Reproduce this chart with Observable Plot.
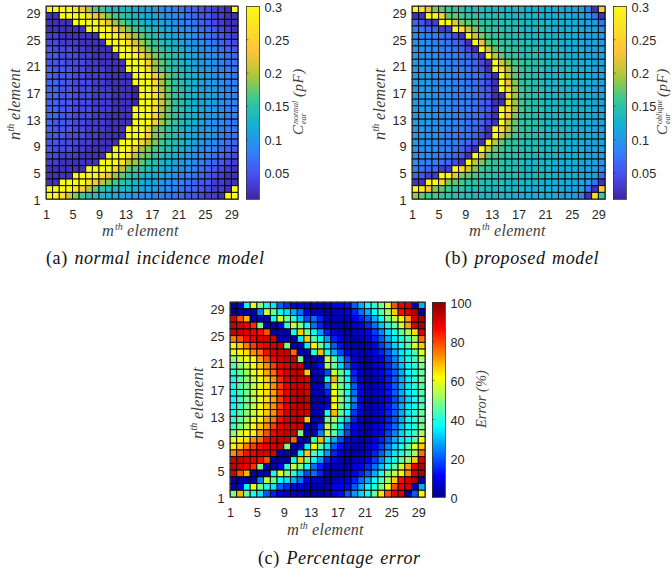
<!DOCTYPE html>
<html><head><meta charset="utf-8">
<script src="https://cdn.jsdelivr.net/npm/d3@7"></script>
<script src="https://cdn.jsdelivr.net/npm/@observablehq/plot@0.6"></script>
<style>
html,body{margin:0;padding:0;background:#fff}
#root{position:relative;width:672px;height:572px;overflow:hidden}
#root svg{position:absolute;overflow:visible;background:transparent;max-width:none}
.cap{position:absolute;font-family:"Liberation Serif",serif;font-size:18px;color:#111;white-space:nowrap;word-spacing:1.5px;letter-spacing:.6px}
.cap i{font-style:italic}
</style></head><body><div id="root"></div>
<script>
// tick labels (matrix index of the element)
const elementTicks=[1,5,9,13,17,21,25,29];
const pfTicks=[5,10,15,20,25,30];
const errTicks=[0,20,40,60,80,100];
// (a) C_ear normal, in 0.01 pF; rows listed from n=29 down to n=1, columns m=1..29
const normalRows=[
[30,30,30,30,27,24,20,17,16,14,13,13,13,12,11,11,10,9,9,8,7,6,6,5,4,3,3,2,30],
[2,2,30,30,30,30,27,23,21,18,16,15,14,13,12,11,11,10,9,9,8,7,6,5,5,3,3,2,2],
[2,2,2,2,30,30,30,30,26,22,19,17,15,14,13,12,11,11,10,9,8,8,7,6,5,4,3,2,2],
[2,2,2,2,2,2,30,30,30,30,25,20,18,16,15,14,13,12,11,10,9,9,8,7,6,5,4,3,2],
[3,3,2,2,2,2,2,2,30,30,30,26,21,19,17,15,14,13,12,11,10,10,9,8,7,6,5,4,3],
[4,4,3,3,3,2,2,2,2,30,30,30,26,21,19,17,15,14,13,12,11,10,9,9,8,7,6,5,4],
[5,4,4,4,3,3,2,2,2,2,30,30,30,26,21,18,16,15,14,13,12,11,10,9,9,8,7,6,5],
[5,5,4,4,4,3,3,2,2,2,2,30,30,30,25,20,18,16,15,14,13,12,11,10,9,9,8,7,6],
[5,5,5,4,4,4,3,3,2,2,2,2,30,30,30,24,19,17,15,14,13,12,11,10,10,9,8,7,7],
[6,5,5,5,4,4,3,3,3,2,2,2,30,30,30,26,19,17,15,14,13,12,11,10,10,9,8,8,7],
[6,5,5,5,4,4,3,3,3,2,2,2,2,30,30,29,24,20,17,15,14,13,12,11,10,9,9,8,7],
[6,6,5,5,4,4,4,3,3,2,2,2,2,30,30,30,26,19,17,15,14,13,12,11,10,10,9,8,8],
[6,6,5,5,4,4,4,3,3,3,2,2,2,1,30,30,26,20,17,15,14,13,12,11,10,10,9,8,8],
[6,6,5,5,4,4,4,3,3,3,2,2,2,1,30,30,27,21,17,15,14,13,12,11,11,10,9,9,8],
[6,6,5,5,4,4,4,3,3,3,2,2,2,1,30,30,27,21,18,15,14,13,12,11,11,10,9,9,8],
[6,6,5,5,4,4,4,3,3,3,2,2,2,30,30,30,27,20,17,15,14,13,12,11,10,10,9,8,8],
[6,6,5,5,4,4,4,3,3,2,2,2,2,30,30,30,25,19,17,15,14,13,12,11,10,10,9,8,8],
[6,5,5,5,4,4,3,3,3,2,2,2,2,30,30,30,24,19,17,15,14,13,12,11,10,9,9,8,7],
[6,5,5,5,4,4,3,3,3,2,2,2,30,30,30,26,18,17,15,14,13,12,11,10,10,9,8,8,7],
[5,5,5,4,4,4,3,3,2,2,2,2,30,30,30,24,18,17,15,14,13,12,11,10,10,9,8,7,7],
[5,5,4,4,4,3,3,2,2,2,2,30,30,30,25,20,18,16,15,14,13,12,11,10,9,9,8,7,6],
[5,4,4,4,3,3,2,2,2,2,30,30,30,25,19,18,16,15,14,13,12,11,10,9,9,8,7,6,5],
[4,4,3,3,3,2,2,2,2,30,30,30,26,20,18,17,15,14,13,12,11,10,9,9,8,7,6,5,4],
[3,3,2,2,2,2,2,2,30,30,30,26,20,19,17,15,14,13,12,11,10,10,9,8,7,6,5,4,3],
[2,2,2,2,2,2,30,30,30,30,25,20,17,16,15,14,13,12,11,10,9,9,8,7,6,5,4,3,2],
[2,2,2,2,30,30,30,30,26,22,19,17,15,14,13,12,11,11,10,9,8,8,7,6,5,4,3,2,2],
[2,2,30,30,30,30,27,23,20,18,16,15,14,13,12,11,11,10,9,9,8,7,6,5,5,3,3,2,2],
[30,30,30,30,27,24,20,17,15,14,13,13,13,12,11,11,10,9,9,8,7,6,6,5,4,3,3,2,30],
[30,30,26,21,18,16,14,14,13,12,12,11,10,10,9,9,8,8,7,7,6,5,5,4,3,3,2,30,30]];
// (b) C_ear oblique, in 0.01 pF
const obliqueRows=[
[30,27,22,18,17,16,15,15,14,14,14,13,13,13,13,13,13,12,12,12,12,12,12,11,11,11,8,2,24],
[2,2,30,30,25,17,17,16,15,15,14,14,14,14,13,13,13,13,13,12,12,12,12,12,11,11,10,7,2],
[6,5,3,3,30,30,22,18,17,16,15,15,14,14,14,14,13,13,13,13,13,12,12,12,12,11,11,11,7],
[8,7,6,6,3,3,30,26,21,18,16,15,15,14,14,14,13,13,13,13,13,12,12,12,12,11,11,11,9],
[9,8,8,8,7,6,4,2,30,21,18,16,15,15,14,14,14,13,13,13,13,12,12,12,12,11,11,11,10],
[9,9,9,8,8,7,6,5,2,30,22,17,16,15,15,14,14,14,13,13,13,13,12,12,12,12,11,11,10],
[10,9,9,9,8,8,7,6,4,2,30,21,17,16,15,15,14,14,14,13,13,13,13,12,12,12,11,11,11],
[10,9,9,9,8,8,8,7,6,5,2,30,20,17,15,15,14,14,14,13,13,13,13,12,12,12,11,11,11],
[10,10,9,9,9,8,8,7,7,6,4,2,30,21,18,16,15,15,14,14,13,13,13,13,12,12,12,11,11],
[10,10,9,9,9,8,8,8,7,6,5,2,30,26,20,17,15,15,14,14,13,13,13,13,12,12,12,11,11],
[10,10,10,9,9,9,8,8,7,7,6,4,2,30,20,17,15,15,14,14,13,13,13,13,12,12,12,11,11],
[10,10,10,9,9,9,8,8,7,7,6,4,2,30,22,18,15,15,14,14,13,13,13,13,12,12,12,11,11],
[10,10,10,9,9,9,8,8,8,7,6,5,2,30,25,19,16,15,14,14,13,13,13,13,12,12,12,11,11],
[10,10,10,9,9,9,8,8,8,7,6,5,2,2,27,19,16,15,14,14,13,13,13,13,12,12,12,11,11],
[10,10,10,9,9,9,8,8,8,7,6,5,2,2,27,19,16,15,14,14,13,13,13,13,12,12,12,11,11],
[10,10,10,9,9,9,8,8,8,7,6,5,2,30,26,19,16,15,14,14,13,13,13,13,12,12,12,11,11],
[10,10,10,9,9,9,8,8,7,7,6,4,2,30,23,18,15,15,14,14,13,13,13,13,12,12,12,11,11],
[10,10,10,9,9,9,8,8,7,7,6,4,2,30,20,17,15,15,14,14,13,13,13,13,12,12,12,11,11],
[10,10,9,9,9,8,8,8,7,6,5,2,30,26,20,17,15,15,14,14,13,13,13,13,12,12,12,11,11],
[10,10,9,9,9,8,8,7,7,6,4,2,30,21,18,16,15,15,14,14,13,13,13,13,12,12,12,11,11],
[10,9,9,9,8,8,8,7,6,5,2,30,20,17,15,15,14,14,14,13,13,13,13,12,12,12,11,11,11],
[10,9,9,9,8,8,7,6,4,2,30,21,17,16,15,15,14,14,14,13,13,13,13,12,12,12,11,11,11],
[9,9,9,8,8,7,6,5,2,30,21,17,16,15,15,14,14,14,13,13,13,13,12,12,12,12,11,11,10],
[9,8,8,8,7,6,4,2,30,20,18,16,15,15,14,14,14,13,13,13,13,12,12,12,12,11,11,11,10],
[8,7,6,6,3,3,30,26,21,18,16,15,15,14,14,14,13,13,13,13,13,12,12,12,12,11,11,11,9],
[6,5,3,3,30,30,22,18,17,16,15,15,14,14,14,14,13,13,13,13,13,12,12,12,12,11,11,11,7],
[2,2,30,30,25,18,17,16,15,15,14,14,14,14,13,13,13,13,13,12,12,12,12,12,11,11,10,7,2],
[30,28,23,18,17,16,15,15,14,14,14,13,13,13,13,13,13,12,12,12,12,12,12,11,11,11,7,2,24],
[19,17,16,16,15,15,14,14,14,13,13,13,13,13,13,12,12,12,12,12,12,12,11,11,11,8,2,26,16]];
// (c) percentage error
const errorRows=[
[3,8,36,58,48,38,34,20,15,8,7,6,3,3,5,8,10,12,20,28,36,40,48,58,78,88,90,5,28],
[2,2,2,3,24,56,46,36,33,28,22,10,6,4,2,4,6,9,14,22,28,36,44,52,66,85,90,95,3],
[90,78,68,3,4,3,38,58,48,40,30,18,22,14,6,4,4,6,10,14,20,28,38,48,55,62,70,90,95],
[92,90,88,82,48,4,3,10,40,55,48,36,22,14,7,4,3,4,7,10,15,22,30,38,46,56,70,90,95],
[92,92,90,88,85,78,3,3,3,38,66,48,36,26,14,8,4,3,4,7,11,17,24,33,38,45,52,64,90],
[74,78,85,88,90,90,90,4,4,3,35,66,45,36,26,14,8,5,3,5,9,14,20,28,34,38,44,52,75],
[62,66,74,80,85,88,90,92,48,4,4,35,62,46,34,20,12,7,3,4,7,11,17,24,32,38,44,58,66],
[58,62,64,72,75,85,90,92,92,76,3,3,40,68,38,28,18,10,6,3,6,9,14,20,28,34,38,44,58],
[50,56,60,62,70,78,86,90,92,92,48,4,3,6,55,45,30,18,8,4,3,7,11,17,24,32,38,42,52],
[44,50,55,60,66,72,80,88,90,92,92,4,3,12,52,46,32,20,10,5,3,6,10,15,22,30,36,40,48],
[40,46,52,58,62,70,75,85,90,92,92,66,3,3,18,56,46,36,14,6,3,5,9,14,20,28,36,40,46],
[38,44,50,56,60,66,72,82,90,92,92,90,3,3,36,68,46,36,16,7,3,5,9,14,20,28,34,40,46],
[38,44,48,54,60,64,72,80,88,92,92,90,3,3,22,58,48,38,20,8,4,4,8,13,20,28,34,40,44],
[36,42,48,54,60,64,70,80,88,92,94,90,3,3,14,60,48,38,22,8,4,4,8,13,20,28,34,38,44],
[36,42,48,54,60,64,70,80,88,92,94,92,3,3,8,62,50,38,24,10,4,4,8,12,18,26,32,38,42],
[36,42,48,54,60,66,72,80,88,92,94,92,3,3,10,60,48,38,22,8,4,4,8,13,20,28,34,38,44],
[38,44,50,56,60,66,72,82,90,92,92,90,3,3,38,68,46,36,16,7,3,5,9,14,20,28,34,40,46],
[40,46,52,58,62,70,75,85,90,92,92,66,3,3,46,52,40,30,14,6,3,5,9,14,20,28,36,40,46],
[42,48,54,60,66,72,80,88,90,92,92,4,3,16,55,46,34,20,10,5,3,6,10,15,22,30,36,40,48],
[50,56,60,62,70,78,86,90,92,92,48,4,3,24,55,45,30,18,8,4,3,7,11,17,24,32,38,42,52],
[58,62,64,72,75,85,90,92,92,76,3,3,42,68,38,28,18,10,6,3,6,9,14,20,28,34,38,44,58],
[62,66,74,80,85,88,90,92,48,4,4,35,62,46,34,20,12,7,3,4,7,11,17,24,32,38,44,58,66],
[72,78,85,88,90,90,90,4,4,3,35,66,45,36,26,14,8,5,3,5,9,14,20,28,34,38,44,52,75],
[92,92,90,88,85,78,3,3,3,38,66,48,36,26,14,8,4,3,4,7,11,17,24,33,38,45,52,66,90],
[92,90,88,82,48,4,3,10,40,55,48,36,22,14,7,4,3,4,7,10,15,22,30,38,46,56,70,88,95],
[90,78,68,3,4,3,38,58,48,40,30,18,22,14,6,4,4,6,10,14,20,28,38,48,55,62,72,90,95],
[2,2,2,3,24,56,46,36,33,28,22,10,6,4,2,4,6,9,14,22,28,36,44,52,66,85,90,95,3],
[3,8,36,58,48,38,34,20,15,8,7,6,3,3,5,8,10,12,20,28,36,40,48,58,78,88,90,5,28],
[48,68,46,38,34,20,14,8,6,5,4,3,3,3,5,8,12,20,26,32,38,46,64,78,88,90,3,20,62]];
// colour maps
const parulaStops=[1,4.7,8.4,12,15.8,19.3,23,30];
const parulaColors=["#3e26a8","#4752f4","#2d87f7","#12b1d6","#37c897","#abc739","#fec338","#f9fb15"];
const jetStops=[0,11,36,61,86,100];
const jetColors=["#00008f","#0000ff","#00ffff","#ffff00","#ff0000","#800000"];

const root=document.getElementById("root");
const serif='"Liberation Serif",serif';
const sans='"Liberation Sans",sans-serif';

function cells(rows){
  const out=[];
  rows.forEach((r,i)=>r.forEach((v,j)=>out.push({m:j+1,n:29-i,v})));
  return out;
}
// text label made of pieces; x, y are page pixels of the label's start
function label(svg,x,y,rot,parts){
  const left=parseFloat(svg.style.left),top=parseFloat(svg.style.top);
  const g=d3.select(svg).append("g").attr("transform",`translate(${x-left},${y-top}) rotate(${rot})`)
    .attr("fill","#3f3f3f").attr("font-family",serif).attr("font-style","italic").attr("text-anchor","start");
  parts.forEach(p=>g.append("text").attr("x",p[1]).attr("y",p[2]||0).attr("font-size",p[3]||17).attr("letter-spacing",p[4]||0).text(p[0]));
}
function panel(opts){
  const {rows,x0,y0,w,h,scale,levels,step,cbX,cbTicks,cbFmt,cbDomain}=opts;
  const ml=46,mb=56;
  const style={fontFamily:sans,fontSize:"12.7px",color:"#262626",background:"transparent"};
  const p=Plot.plot({
    width:ml+w+1,height:1+h+mb,marginLeft:ml,marginRight:1,marginTop:1,marginBottom:mb,style,
    x:{domain:[1,30],axis:null},y:{domain:[1,30],axis:null},
    color:scale,
    marks:[
      Plot.rect(cells(rows),{x1:"m",x2:d=>d.m+1,y1:"n",y2:d=>d.n+1,fill:"v",stroke:"#000",strokeWidth:.9}),
      Plot.frame({stroke:"#333",strokeWidth:.8}),
      Plot.axisX({ticks:elementTicks,tickSize:0,tickPadding:10,label:null,tickFormat:d=>d}),
      Plot.axisY({ticks:elementTicks,tickSize:0,tickPadding:6,dy:1,label:null,tickFormat:d=>d})
    ]});
  p.style.left=(x0-ml-1)+"px";p.style.top=(y0-1)+"px";
  root.appendChild(p);
  const cw=13;
  const c=Plot.plot({
    width:1+cw+34,height:1+h+1,marginLeft:1,marginRight:34,marginTop:1,marginBottom:1,style,
    x:{domain:[0,1],axis:null},y:{domain:cbDomain,axis:null},
    color:scale,
    marks:[
      Plot.rect(levels,{x1:0,x2:1,y1:d=>d,y2:d=>d+step,fill:d=>d,shapeRendering:"crispEdges"}),
      Plot.tickY(cbTicks,{y:d=>d,stroke:"#333",strokeWidth:.6,insetRight:cw-2.5}),
      Plot.frame({stroke:"#333",strokeWidth:.8}),
      Plot.axisY({anchor:"right",ticks:cbTicks,tickSize:0,tickPadding:5,dy:1,label:null,tickFormat:cbFmt})
    ]});
  c.style.left=(cbX-1)+"px";c.style.top=(y0-1)+"px";
  root.appendChild(c);
  return {p,c};
}
const parula={type:"linear",domain:parulaStops,range:parulaColors,clamp:true};
const jet={type:"linear",domain:jetStops,range:jetColors,clamp:true};
const pfLevels=d3.range(1,30,.25), errLevels=d3.range(0,100,.5);
const fmtPf=d=>String(d/100);

const a=panel({rows:normalRows,x0:47,y0:6,w:192,h:193,scale:parula,levels:pfLevels,step:.25,cbX:246,cbTicks:pfTicks,cbFmt:fmtPf,cbDomain:[1,30]});
const b=panel({rows:obliqueRows,x0:413,y0:6,w:193,h:193,scale:parula,levels:pfLevels,step:.25,cbX:613,cbTicks:pfTicks,cbFmt:fmtPf,cbDomain:[1,30]});
const c=panel({rows:errorRows,x0:231,y0:302,w:195,h:195,scale:jet,levels:errLevels,step:.5,cbX:432,cbTicks:errTicks,cbFmt:d=>d,cbDomain:[0,100]});

const xParts=[["m",0,0,16.5],["th",13,-6,10],["element",25,0,16,.3]];
const yParts=[["n",0,0,16.5],["th",8.5,-6,10],["element",20,0,16,.3]];
label(a.p,102,236,0,xParts);
label(a.p,20,140,-90,yParts);
label(b.p,469,236,0,xParts);
label(b.p,385,140,-90,yParts);
label(c.p,287,535,0,xParts);
label(c.p,203,439,-90,yParts);
function cbLabel(pan,x,y,sup,sub){
  label(pan.c,x,y,-90,[["C",0,0,15],[sup,11,-5,8],[sub,11,2.5,8],["(pF)",38,0,15,.5]]);
}
cbLabel(a,303,135,"normal","ear");
cbLabel(b,667,135,"oblique","ear");
label(c.c,486,428,-90,[["Error (%)",0,0,14.5]]);

function caption(x,y,tag,txt){
  const d=document.createElement("div");d.className="cap";
  d.style.left=x+"px";d.style.top=y+"px";
  d.innerHTML=`(${tag}) <i>${txt}</i>`;
  root.appendChild(d);
}
caption(46,248,"a","normal incidence model");
caption(445,248,"b","proposed model");
caption(258,548,"c","Percentage error");
</script></body></html>
